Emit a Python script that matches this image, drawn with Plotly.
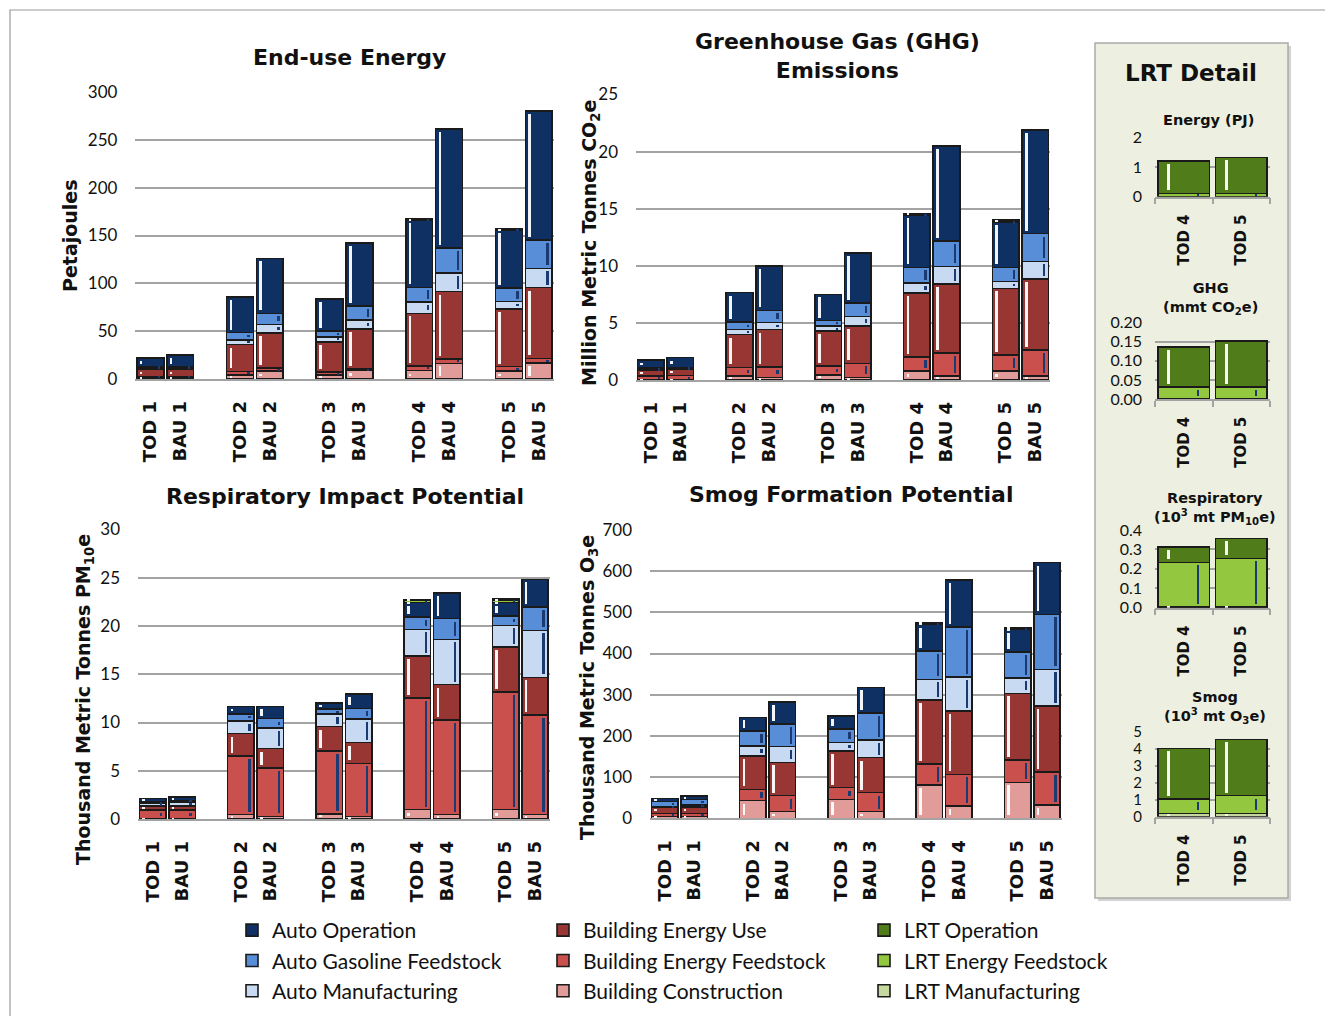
import plotly.graph_objects as go

W, H = 1333, 1016
OX, OY = 8, 8          # page offset of the plot in the browser
FONT = "Lato"
BFONT = "DejaVu Sans"

# ---------------- data ----------------
categories = ["TOD 1", "BAU 1", "TOD 2", "BAU 2", "TOD 3", "BAU 3", "TOD 4", "BAU 4", "TOD 5", "BAU 5"]
lrt_categories = ["TOD 4", "TOD 5"]

series_names = ["Building Construction", "Building Energy Feedstock", "Building Energy Use",
                "Auto Manufacturing", "Auto Gasoline Feedstock", "Auto Operation",
                "LRT Manufacturing", "LRT Energy Feedstock", "LRT Operation"]

# End-use Energy (PJ)
energy_bldg_construction = [1.5, 1.5, 4.0, 8.4, 4.0, 9.4, 8.7, 16.4, 8.4, 17.0]
energy_bldg_feedstock = [1.0, 1.0, 4.0, 2.8, 3.5, 1.0, 4.9, 4.2, 4.5, 4.6]
energy_bldg_use = [8.0, 8.0, 28.0, 37.2, 31.4, 41.8, 55.0, 70.7, 60.0, 73.9]
energy_auto_mfg = [1.0, 1.0, 5.0, 8.7, 5.2, 9.4, 12.2, 19.2, 8.0, 20.2]
energy_auto_gas = [1.5, 1.5, 7.6, 11.5, 6.3, 14.6, 15.0, 26.5, 14.0, 29.6]
energy_auto_op = [9.0, 12.0, 37.0, 57.5, 33.0, 66.0, 70.0, 124.5, 60.5, 135.0]

# GHG (million metric tonnes CO2e)
ghg_bldg_construction = [0.05, 0.03, 0.35, 0.23, 0.46, 0.23, 0.81, 0.35, 0.81, 0.35]
ghg_bldg_feedstock = [0.30, 0.37, 0.76, 0.93, 0.75, 1.22, 1.22, 2.03, 1.36, 2.26]
ghg_bldg_use = [0.50, 0.55, 2.87, 3.25, 3.07, 3.28, 5.60, 6.04, 5.86, 6.24]
ghg_auto_mfg = [0.03, 0.05, 0.44, 0.64, 0.46, 0.84, 0.87, 1.53, 0.58, 1.53]
ghg_auto_gas = [0.15, 0.10, 0.67, 1.05, 0.46, 1.16, 1.36, 2.24, 1.25, 2.44]
ghg_auto_op = [0.72, 0.87, 2.56, 3.89, 2.29, 4.39, 4.60, 8.28, 3.98, 9.09]

# Respiratory (thousand metric tonnes PM10e)
resp_bldg_construction = [0.05, 0.05, 0.45, 0.28, 0.52, 0.28, 0.97, 0.45, 0.97, 0.45]
resp_bldg_feedstock = [0.87, 0.87, 6.08, 5.03, 6.53, 5.49, 11.56, 9.83, 12.22, 10.31]
resp_bldg_use = [0.42, 0.45, 2.33, 1.98, 2.53, 2.15, 4.34, 3.65, 4.62, 3.92]
resp_auto_mfg = [0.28, 0.42, 1.32, 2.12, 1.28, 2.43, 2.78, 4.69, 2.26, 4.86]
resp_auto_gas = [0.17, 0.10, 0.69, 1.00, 0.52, 1.11, 1.28, 2.15, 0.97, 2.43]
resp_auto_op = [0.35, 0.42, 0.80, 1.25, 0.62, 1.49, 1.49, 2.67, 1.39, 2.85]

# Smog (thousand metric tonnes O3e)
smog_bldg_construction = [4.0, 4.0, 42.8, 16.2, 46.0, 16.2, 80.8, 29.9, 87.3, 32.3]
smog_bldg_feedstock = [8.0, 8.0, 27.5, 38.8, 28.3, 46.0, 50.9, 76.8, 54.2, 80.8]
smog_bldg_use = [14.5, 16.0, 80.8, 80.8, 89.0, 84.9, 155.2, 153.6, 161.7, 159.3]
smog_auto_mfg = [2.0, 4.0, 24.3, 38.0, 21.0, 42.8, 50.1, 83.3, 38.0, 88.9]
smog_auto_gas = [12.0, 13.7, 37.2, 55.0, 32.3, 66.3, 68.7, 121.3, 63.0, 133.4]
smog_auto_op = [8.0, 9.0, 32.3, 54.2, 31.5, 61.4, 64.7, 113.2, 53.6, 126.1]

# LRT detail (TOD 4, TOD 5)
lrt_energy_mfg = [0.0, 0.0]
lrt_energy_feedstock = [0.11, 0.11]
lrt_energy_op = [1.10, 1.22]
lrt_ghg_mfg = [0.0, 0.0]
lrt_ghg_feedstock = [0.032, 0.032]
lrt_ghg_op = [0.105, 0.120]
lrt_resp_mfg = [0.005, 0.005]
lrt_resp_feedstock = [0.228, 0.249]
lrt_resp_op = [0.081, 0.103]
lrt_smog_mfg = [0.20, 0.20]
lrt_smog_feedstock = [0.84, 1.04]
lrt_smog_op = [2.98, 3.31]

# ---------------- styles ----------------
colors = {
    "Auto Operation": "#0E3062",
    "Auto Gasoline Feedstock": "#578ED7",
    "Auto Manufacturing": "#C7DAF1",
    "Building Energy Use": "#983634",
    "Building Energy Feedstock": "#C9504D",
    "Building Construction": "#E19C9A",
    "LRT Operation": "#507C19",
    "LRT Energy Feedstock": "#92C73F",
    "LRT Manufacturing": "#C5D89D",
}
# decorative inner stripe: 'L' = white stripe at left, 'R' = dark stripe at right
stripe = {
    "Auto Operation": "L", "Auto Gasoline Feedstock": "R", "Auto Manufacturing": "R",
    "Building Energy Use": "L", "Building Energy Feedstock": "R", "Building Construction": "L",
    "LRT Operation": "L", "LRT Energy Feedstock": "R", "LRT Manufacturing": "L",
}
legend_of = {
    "Auto Operation": ("legend", 1), "Auto Gasoline Feedstock": ("legend", 2), "Auto Manufacturing": ("legend", 3),
    "Building Energy Use": ("legend2", 1), "Building Energy Feedstock": ("legend2", 2), "Building Construction": ("legend2", 3),
    "LRT Operation": ("legend3", 1), "LRT Energy Feedstock": ("legend3", 2), "LRT Manufacturing": ("legend3", 3),
}

lrt_tables = {
    "energy": (lrt_energy_mfg, lrt_energy_feedstock, lrt_energy_op),
    "ghg": (lrt_ghg_mfg, lrt_ghg_feedstock, lrt_ghg_op),
    "resp": (lrt_resp_mfg, lrt_resp_feedstock, lrt_resp_op),
    "smog": (lrt_smog_mfg, lrt_smog_feedstock, lrt_smog_op),
}


def expand_lrt(vals):
    out = [0.0] * len(categories)
    for c, v in zip(lrt_categories, vals):
        out[categories.index(c)] = v
    return out


main_tables = {}
for key, parts in {
    "energy": (energy_bldg_construction, energy_bldg_feedstock, energy_bldg_use, energy_auto_mfg, energy_auto_gas, energy_auto_op),
    "ghg": (ghg_bldg_construction, ghg_bldg_feedstock, ghg_bldg_use, ghg_auto_mfg, ghg_auto_gas, ghg_auto_op),
    "resp": (resp_bldg_construction, resp_bldg_feedstock, resp_bldg_use, resp_auto_mfg, resp_auto_gas, resp_auto_op),
    "smog": (smog_bldg_construction, smog_bldg_feedstock, smog_bldg_use, smog_auto_mfg, smog_auto_gas, smog_auto_op),
}.items():
    lrt = [expand_lrt(v) for v in lrt_tables[key]]
    main_tables[key] = dict(zip(series_names, list(parts) + lrt))

lrt_small = {key: dict(zip(["LRT Manufacturing", "LRT Energy Feedstock", "LRT Operation"], vals))
             for key, vals in lrt_tables.items()}

# x positions: pairs of bars separated by an empty slot
x_main = [3 * (i // 2) + (i % 2) for i in range(len(categories))]
x_lrt = list(range(len(lrt_categories)))


def xd(a, b):
    return [(a - OX) / W, (b - OX) / W]


def yd(top, bottom):
    return [1 - (bottom - OY) / H, 1 - (top - OY) / H]


# subplot geometry in reference pixels: x0, x1, ytop, ybottom, yrange, dtick
main_geom = {
    1: (135.4, 553.7, 92, 379, [0, 300], 50),
    2: (636, 1050, 94.5, 380, [0, 25], 5),
    3: (138, 549.7, 529.5, 819, [0, 30], 5),
    4: (650, 1061.7, 529.9, 818.3, [0, 700], 100),
}
lrt_geom = {
    5: (1155, 1270, 137.7, 196.7, [0, 2], 1, "", 16),
    6: (1155, 1270, 322.7, 399, [0, 0.2], 0.05, ".2f", 16),
    7: (1155, 1270, 530, 607.7, [0, 0.4], 0.1, ".1f", 16),
    8: (1155, 1270, 731.7, 816.7, [0, 5], 1, "", 15),
}

fig = go.Figure()
shown = set()
OUT = dict(color="#1A1A1A", width=1.6)
MAIN_BW = 0.9
LRT_BW = 0.67


def add_stack(xs, table, ax, bw, unit_px, val_per_px, legend_on):
    sx = "" if ax == 1 else str(ax)
    cum = [0.0] * len(xs)
    deco = []
    for name in series_names:
        if name not in table:
            continue
        vals = table[name]
        lg, rank = legend_of[name]
        fig.add_trace(go.Bar(
            x=xs, y=[v if v > 0 else None for v in vals], name=name,
            marker=dict(color=colors[name], line=OUT),
            xaxis=f"x{sx}", yaxis=f"y{sx}",
            legend=lg, legendrank=rank, showlegend=legend_on and name not in shown,
            hovertemplate="%{y}<extra>" + name + "</extra>",
        ))
        if legend_on:
            shown.add(name)
        # inner stripe decoration derived from the stacked values
        inset = 3.0 * val_per_px
        minh = 2.0 * val_per_px
        bases, heights = [], []
        for c, v in zip(cum, vals):
            if v <= 0:
                bases.append(None)
                heights.append(None)
                continue
            h = max(v - 2 * inset, minh)
            bases.append(c + (v - h) / 2)
            heights.append(h)
        if stripe[name] == "L":
            off, wid, col = -bw / 2 + 3.0 / unit_px, 2.6 / unit_px, "rgba(255,255,255,0.95)"
        else:
            off, wid, col = bw / 2 - 6.0 / unit_px, 2.4 / unit_px, "#1C3A72"
        deco.append(go.Bar(
            x=xs, y=heights, base=bases, offset=off, width=wid,
            marker=dict(color=col, line=dict(width=0)),
            xaxis=f"x{sx}", yaxis=f"y{sx}", showlegend=False, hoverinfo="skip",
        ))
        cum = [c + v for c, v in zip(cum, vals)]
    for d in deco:
        fig.add_trace(d)


for ax, key in zip([1, 2, 3, 4], ["energy", "ghg", "resp", "smog"]):
    x0, x1, yt, yb, yr, dt = main_geom[ax]
    add_stack(x_main, main_tables[key], ax, MAIN_BW, (x1 - x0) / 14.0,
              (yr[1] - yr[0]) / (yb - yt), legend_on=True)

for ax, key in zip([5, 6, 7, 8], ["energy", "ghg", "resp", "smog"]):
    x0, x1, yt, yb, yr, dt, fmt, fs = lrt_geom[ax]
    add_stack(x_lrt, lrt_small[key], ax, LRT_BW, (x1 - x0) / 2.0,
              (yr[1] - yr[0]) / (yb - yt), legend_on=False)

GRID = "#A3A3A3"
tickfont = dict(family=FONT, size=17, color="#111")
boldtick = dict(family=BFONT, size=18, color="#111", weight="bold")

layout = {}
for ax, (x0, x1, yt, yb, yr, dt) in main_geom.items():
    sx = "" if ax == 1 else str(ax)
    layout[f"xaxis{sx}"] = dict(
        domain=xd(x0, x1), range=[-0.5, 13.5], anchor=f"y{sx}", automargin=False,
        tickmode="array", tickvals=x_main, ticktext=categories, tickangle=-90,
        tickfont=boldtick, showgrid=False, zeroline=False,
        showline=True, linecolor=GRID, linewidth=1.5, ticks="", ticklabelstandoff=13,
    )
    layout[f"yaxis{sx}"] = dict(
        domain=yd(yt, yb), range=yr, dtick=dt, tick0=0, anchor=f"x{sx}", automargin=False,
        showgrid=True, gridcolor=GRID, gridwidth=1.5, zeroline=False,
        showline=False, tickfont=tickfont, ticklabelstandoff=17,
    )

for ax, (x0, x1, yt, yb, yr, dt, fmt, fs) in lrt_geom.items():
    layout[f"xaxis{ax}"] = dict(
        domain=xd(x0, x1), range=[-0.5, 1.5], anchor=f"y{ax}", automargin=False,
        tickmode="array", tickvals=x_lrt, ticktext=lrt_categories, tickangle=-90,
        tickfont=dict(family=BFONT, size=15, color="#111", weight="bold"),
        showgrid=False, zeroline=False, showline=True, linecolor=GRID, linewidth=1.5,
        ticks="", ticklabelstandoff=10,
        minor=dict(tickmode="linear", tick0=0.5, dtick=1, ticks="outside", ticklen=6,
                   tickcolor=GRID, tickwidth=1.5, showgrid=False),
    )
    layout[f"yaxis{ax}"] = dict(
        domain=yd(yt, yb), range=yr, dtick=dt, tick0=0, anchor=f"x{ax}", tickformat=fmt,
        automargin=False, showgrid=True, gridcolor=GRID, gridwidth=1.5, zeroline=False,
        showline=False, tickfont=dict(family=FONT, size=fs, color="#111"), ticklabelstandoff=12,
    )


def ann(text, x, y, size, angle=0):
    return dict(text=text, x=(x - OX) / W, y=1 - (y - OY) / H, xref="paper", yref="paper",
                xanchor="center", yanchor="middle", showarrow=False, textangle=angle,
                font=dict(family=BFONT, size=size, color="#111", weight="bold"))


annotations = [
    ann("End-use Energy", 349, 57, 22),
    ann("Greenhouse Gas (GHG)<br>Emissions", 837, 56, 22),
    ann("Respiratory Impact Potential", 345, 496, 22),
    ann("Smog Formation Potential", 851, 494, 22),
    ann("Petajoules", 70, 236, 19, -90),
    ann("Million Metric Tonnes CO<sub>2</sub>e", 590, 243, 19, -90),
    ann("Thousand Metric Tonnes PM<sub>10</sub>e", 84, 700, 19, -90),
    ann("Thousand Metric Tonnes O<sub>3</sub>e", 588, 688, 19, -90),
    ann("LRT Detail", 1191, 73, 23),
    ann("Energy (PJ)", 1208, 120, 14.5),
    ann("GHG<br>(mmt CO<sub>2</sub>e)", 1210, 299, 14.5),
    ann("Respiratory<br>(10<sup>3</sup> mt PM<sub>10</sub>e)", 1215, 508, 14.5),
    ann("Smog<br>(10<sup>3</sup> mt O<sub>3</sub>e)", 1215, 707, 14.5),
]


def rect(x0, y0, x1, y1, **kw):
    return dict(type="rect", xref="paper", yref="paper", layer="below",
                x0=(x0 - OX) / W, x1=(x1 - OX) / W, y0=1 - (y1 - OY) / H, y1=1 - (y0 - OY) / H, **kw)


shapes = [
    rect(10, 10, 1345, 1030, line=dict(color="#9A9A9A", width=1.2), fillcolor="rgba(0,0,0,0)"),
    rect(1098, 46, 1291, 901, line=dict(width=0), fillcolor="#D3D3D3"),
    rect(1095, 43, 1288, 898, line=dict(color="#ABABAB", width=1.5), fillcolor="#EDF0E1"),
]

legfont = dict(family=FONT, size=21, color="#111")
for lg, xpx in [("legend", 232), ("legend2", 543), ("legend3", 864)]:
    layout[lg] = dict(x=(xpx - OX) / W, y=1 - (910 - OY) / H, xanchor="left", yanchor="top",
                      orientation="v", font=legfont, bgcolor="rgba(0,0,0,0)",
                      traceorder="normal", itemwidth=30, tracegroupgap=0)

fig.update_layout(
    width=W, height=H, margin=dict(l=0, r=0, t=0, b=0, autoexpand=False),
    paper_bgcolor="white", plot_bgcolor="rgba(0,0,0,0)",
    barmode="stack", bargap=0.1,
    font=dict(family=FONT, color="#111"),
    annotations=annotations, shapes=shapes,
    **layout,
)
fig.write_html("out.html")
